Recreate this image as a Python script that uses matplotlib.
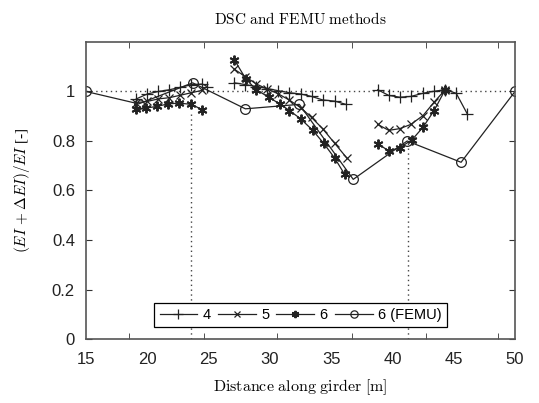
import numpy as np
import matplotlib
matplotlib.use('Agg')
from matplotlib import pyplot as plt

plt.rcParams['font.family'] = ['Liberation Sans', 'DejaVu Sans']
plt.rcParams['mathtext.fontset'] = 'cm'

# series 4 (+), 5 (x), 6 (*) - three groups each, FEMU (o)
x4 = [[19.1, 20.0, 20.9, 21.8, 22.7, 23.6, 24.5, 24.9],
      [27.1, 28.0, 28.9, 29.8, 30.7, 31.6, 32.5, 33.4, 34.3, 35.3, 36.2],
      [38.8, 39.7, 40.6, 41.5, 42.5, 43.4, 44.3, 45.2, 46.1]]
y4 = [[0.97, 0.99, 1.0, 1.007, 1.017, 1.028, 1.03, 1.02],
      [1.035, 1.028, 1.02, 1.012, 1.003, 0.995, 0.99, 0.98, 0.966, 0.961, 0.948],
      [1.007, 0.984, 0.977, 0.98, 0.993, 1.001, 1.007, 0.993, 0.91]]

x5 = [[19.1, 20.0, 20.9, 21.8, 22.7, 23.6, 24.5],
      [27.1, 28.0, 28.9, 29.8, 30.7, 31.6, 32.5, 33.4, 34.3, 35.3, 36.3],
      [38.8, 39.7, 40.6, 41.5, 42.5, 43.4, 44.3]]
y5 = [[0.955, 0.96, 0.97, 0.975, 0.985, 0.995, 1.005],
      [1.09, 1.06, 1.03, 1.01, 0.99, 0.965, 0.935, 0.895, 0.85, 0.79, 0.73],
      [0.867, 0.843, 0.85, 0.867, 0.903, 0.957, 1.007]]

x6 = [[19.1, 19.9, 20.8, 21.7, 22.6, 23.6, 24.5],
      [27.1, 28.05, 28.9, 29.9, 30.8, 31.6, 32.5, 33.5, 34.4, 35.3, 36.1],
      [38.8, 39.7, 40.6, 41.6, 42.5, 43.4, 44.3]]
y6 = [[0.93, 0.933, 0.94, 0.95, 0.953, 0.948, 0.926],
      [1.128, 1.05, 1.007, 0.977, 0.95, 0.923, 0.89, 0.843, 0.79, 0.73, 0.665],
      [0.789, 0.76, 0.773, 0.805, 0.856, 0.923, 1.007]]

x_femu = [15.0, 19.3, 23.7, 28.0, 32.4, 36.8, 41.2, 45.6, 50.0]
y_femu = [1.0, 0.95, 1.035, 0.93, 0.948, 0.645, 0.80, 0.714, 1.0]

vlines = [(23.6, 0.92), (41.3, 0.80)]
xticklabels = [15, 20, 25, 30, 35, 40, 45, 50]
xtickmarks = [18.5, 24.6, 30.6, 36.7, 42.7, 48.6]
yticks = [0, 0.2, 0.4, 0.6, 0.8, 1]

fig = plt.figure(figsize=(5.39, 4.03), dpi=100)
ax = fig.add_axes([0.1596, 0.1588, 0.7959, 0.737])

lc = '#222222'
ax.axhline(1.0, color='#444444', ls=(0, (1, 2.5)), lw=1.0, zorder=1)
for xv, top in vlines:
    ax.plot([xv, xv], [0, top], color='#444444', ls=(0, (1, 2.5)), lw=1.0, zorder=1)

for i in range(3):
    ax.plot(x4[i], y4[i], color=lc, lw=0.9, marker='+', ms=9, mew=0.9,
            label='4' if i == 0 else None)
    ax.plot(x5[i], y5[i], color=lc, lw=0.9, marker='x', ms=6, mew=0.9,
            label='5' if i == 0 else None)
    ax.plot(x6[i], y6[i], color=lc, lw=0.9, marker=(6, 2, 0), ms=7, mew=1.4,
            label='6' if i == 0 else None)
ax.plot(x_femu, y_femu, color=lc, lw=0.9, marker='o', ms=7, mew=0.9,
        mfc='none', label='6 (FEMU)')

ax.set_xlim(15, 50)
ax.set_ylim(0, 1.2)
ax.set_xticks(xticklabels)
ax.set_xticklabels([str(v) for v in xticklabels])
ax.set_xticks(xtickmarks, minor=True)
ax.set_yticks(yticks)
ax.set_yticklabels(['0', '0.2', '0.4', '0.6', '0.8', '1'])
ax.tick_params(axis='x', which='major', length=0, pad=9, labelsize=12,
               labelcolor='#222222')
ax.tick_params(axis='x', which='minor', direction='in', length=4,
               top=True, bottom=True, color='#333333')
ax.tick_params(axis='y', direction='in', length=4, right=True,
               pad=8, labelsize=12, color='#333333', labelcolor='#222222')
for s in ax.spines.values():
    s.set_color('#555555')
    s.set_linewidth(1.2)

ax.set_title(r'$\mathrm{DSC\ and\ FEMU\ methods}$', fontsize=11, pad=13)
ax.set_xlabel(r'$\mathrm{Distance\ along\ girder\ [m]}$', fontsize=11.5, labelpad=8)
ax.set_ylabel(r'$(EI\,+\Delta EI)/EI$ [-]', fontsize=11, labelpad=14,
              fontfamily='Liberation Serif')

leg = ax.legend(loc='lower center', bbox_to_anchor=(0.5, 0.015), ncol=4,
                fancybox=False, edgecolor='black', framealpha=1, fontsize=10.5,
                handlelength=2.6, columnspacing=0.5, handletextpad=0.35,
                borderpad=0.35, markerscale=0.75)
leg.get_frame().set_linewidth(0.9)

fig.savefig('out.png', dpi=100)
